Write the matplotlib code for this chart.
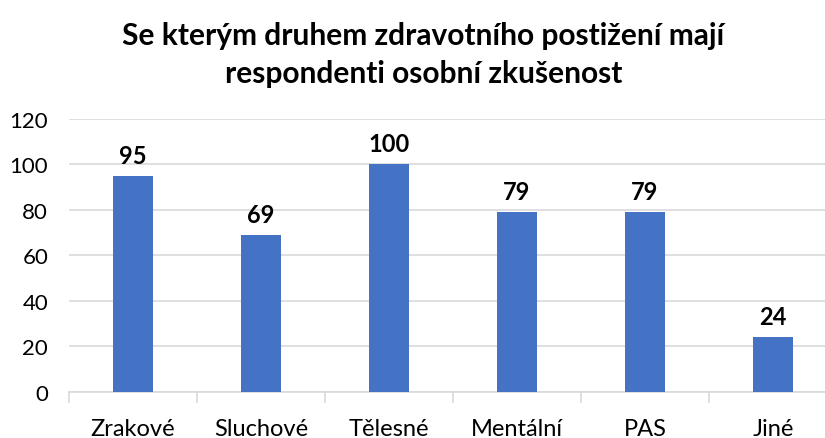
import matplotlib.pyplot as plt
import numpy as np

# ---------------------------- data ----------------------------
categories = ["Zrakové", "Sluchové", "Tělesné", "Mentální", "PAS", "Jiné"]
counts = [95, 69, 100, 79, 79, 24]
y_ticks = [0, 20, 40, 60, 80, 100, 120]
title = "Se kterým druhem zdravotního postižení mají\nrespondenti osobní zkušenost"

plt.rcParams["font.family"] = ["Lato", "DejaVu Sans"]

fig = plt.figure(figsize=(8.25, 4.39), dpi=100)
ax = fig.add_axes([0.0836, 0.1048, 0.931, 0.622])

x = np.arange(len(categories))
ax.bar(x, counts, width=0.3125, color="#4472C4", zorder=3)

for xi, v in zip(x, counts):
    ax.text(xi, v + 4, str(v), ha="center", va="bottom",
            fontsize=17, fontweight="bold", color="black")

ax.set_xlim(-0.5, len(categories) - 0.5)
ax.set_ylim(0, 120)
ax.set_yticks(y_ticks)
ax.yaxis.grid(True, color="#d9d9d9", linewidth=1.2, zorder=0)

# category boundary ticks
ax.set_xticks(x)
ax.set_xticklabels(categories, fontsize=17)
ax.tick_params(axis="x", length=0, pad=19)
ax.set_xticks(np.arange(-0.5, len(categories), 1), minor=True)
ax.tick_params(axis="x", which="minor", length=8, color="#d9d9d9", width=1.2)
ax.tick_params(axis="y", length=0, labelsize=16, pad=15)

for s in ["top", "right", "left"]:
    ax.spines[s].set_visible(False)
ax.spines["bottom"].set_color("#d9d9d9")
ax.spines["bottom"].set_linewidth(1.2)

fig.text(0.513, 0.95, title, ha="center", va="top", fontsize=21.5,
         fontweight="bold", linespacing=1.45)

plt.savefig("out.png", dpi=100)
